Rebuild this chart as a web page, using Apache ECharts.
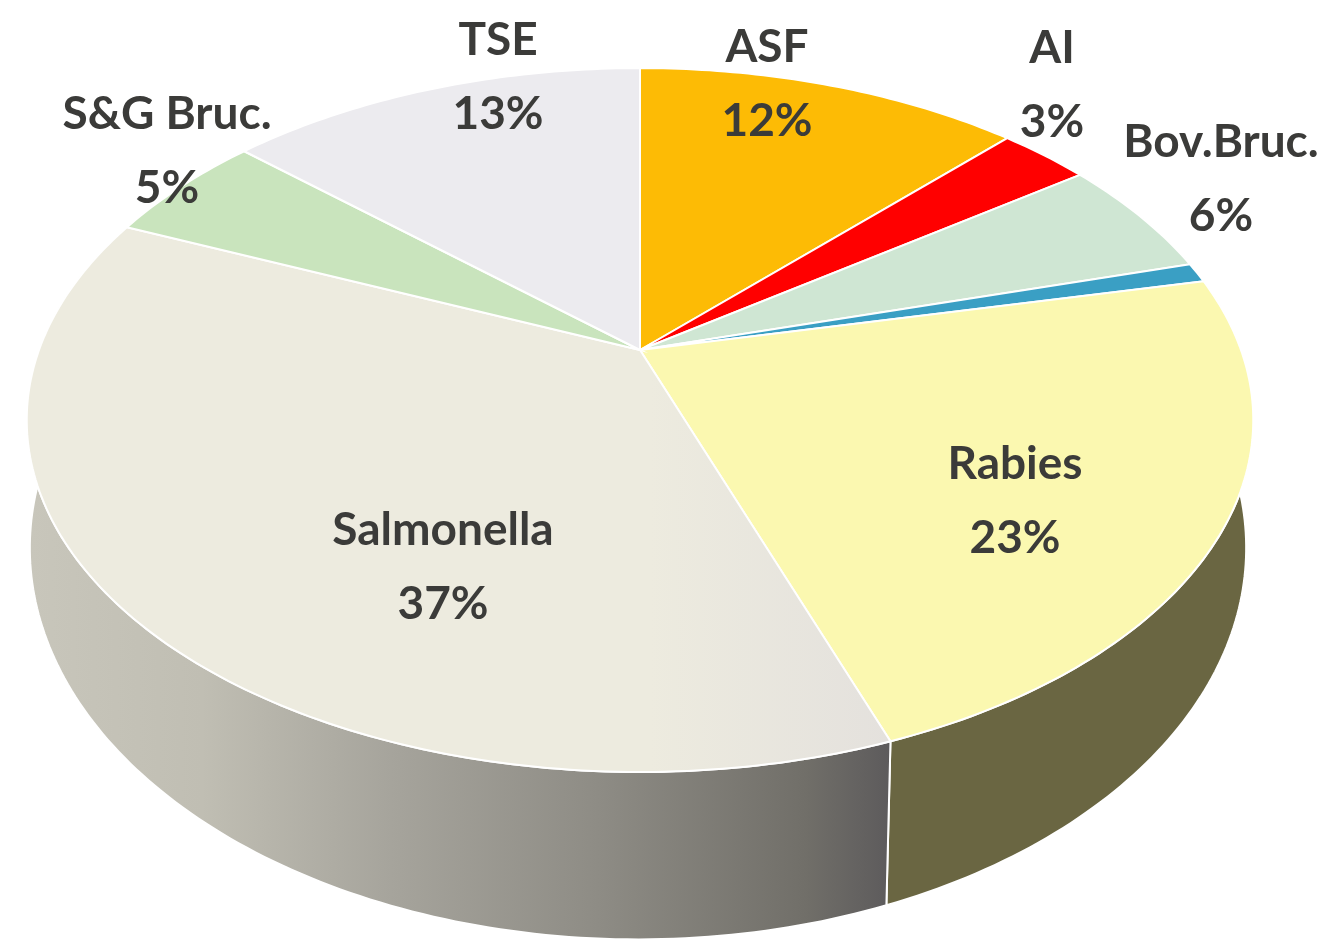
<!DOCTYPE html>
<html>
<head>
<meta charset="utf-8">
<title>Pie</title>
<script src="https://cdn.jsdelivr.net/npm/echarts@6/dist/echarts.min.js"></script>
<style>
html,body{margin:0;padding:0;background:#fff;}
#container{width:1329px;height:940px;}
</style>
</head>
<body>
<div id="container"></div>
<script>
// slices clockwise from 12 o'clock, the thin blue one has no label in the picture
var names = ['ASF', 'AI', 'Bov.Bruc.', '', 'Rabies', 'Salmonella', 'S&G Bruc.', 'TSE'];
var values = [12.3, 2.9, 5.5, 0.9, 22.9, 36.9, 5.2, 13.4];

var colors = ['#fdbb05', '#ff0000', '#cfe6d3', '#3a9fc4', '#fbf8b0', '#edebdf', '#c9e4bd', '#ecebef'];
var labelAt = [[767, 84], [1052, 85], [1221, 179], null, [1015, 501], [443, 567], [167, 151], [498, 77]];

// tilted disc, top face and bottom edge
var topFace = {x: 640, y: 350, w: 601, h: 338};
var bottomFace = {x: 638, y: 470, w: 596, h: 376};
var tilt = 0.199;

var starts = [];
var sum = 0;
values.forEach(function (v) {
    starts.push(sum);
    sum += v;
});

function project(face, pct) {
    var a = pct / sum * Math.PI * 2;
    var u = Math.sin(a);
    var v = -Math.cos(a);
    var d = 1 - tilt * v;
    return [face.x + face.w * u / d, face.y + face.h * v / d];
}

function arcPoints(face, from, to) {
    var pts = [];
    var n = Math.ceil((to - from) / 0.25);
    for (var i = 0; i <= n; i++) {
        pts.push(project(face, from + (to - from) * i / n));
    }
    return pts;
}

function wallFill(i) {
    if (names[i] === 'Rabies') return '#6a6642';
    return new echarts.graphic.LinearGradient(30, 0, 890, 0, [
        {offset: 0, color: '#c8c6bb'},
        {offset: 0.2, color: '#c0beb3'},
        {offset: 0.42, color: '#a6a49c'},
        {offset: 0.66, color: '#8e8c85'},
        {offset: 0.9, color: '#716f69'},
        {offset: 1, color: '#5d5b5c'}
    ], true);
}

function topFill(i) {
    if (names[i] !== 'Salmonella') return colors[i];
    return new echarts.graphic.LinearGradient(30, 0, 890, 0, [
        {offset: 0, color: colors[i]},
        {offset: 0.72, color: colors[i]},
        {offset: 1, color: '#e4e1dd'}
    ], true);
}

function renderWall(params, api) {
    var i = params.dataIndex;
    var from = starts[i];
    var to = from + api.value(0);
    var pts = arcPoints(topFace, from, to).concat(arcPoints(bottomFace, from, to).reverse());
    return {
        type: 'polygon',
        shape: {points: pts},
        style: {fill: wallFill(i), stroke: '#fff', lineWidth: 2}
    };
}

function renderTop(params, api) {
    var i = params.dataIndex;
    var from = starts[i];
    var to = from + api.value(0);
    var pts = [[topFace.x, topFace.y]].concat(arcPoints(topFace, from, to));
    return {
        type: 'polygon',
        shape: {points: pts},
        style: {fill: topFill(i), stroke: '#fff', lineWidth: 2}
    };
}

function renderLabel(params, api) {
    var i = params.dataIndex;
    if (!names[i]) return null;
    return {
        type: 'text',
        x: labelAt[i][0],
        y: labelAt[i][1],
        style: {
            text: names[i] + '\n' + Math.round(api.value(0)) + '%',
            font: 'bold 46px Lato',
            lineHeight: 74,
            fill: '#3b3b39',
            align: 'center',
            verticalAlign: 'middle'
        }
    };
}

var myChart = echarts.init(document.getElementById('container'));
var option = {
    backgroundColor: '#fff',
    animation: false,
    series: [
        {type: 'custom', coordinateSystem: 'none', renderItem: renderWall, data: values, z: 1},
        {type: 'custom', coordinateSystem: 'none', renderItem: renderTop, data: values, z: 2},
        {type: 'custom', coordinateSystem: 'none', renderItem: renderLabel, data: values, z: 3}
    ]
};
myChart.setOption(option);
</script>
</body>
</html>
